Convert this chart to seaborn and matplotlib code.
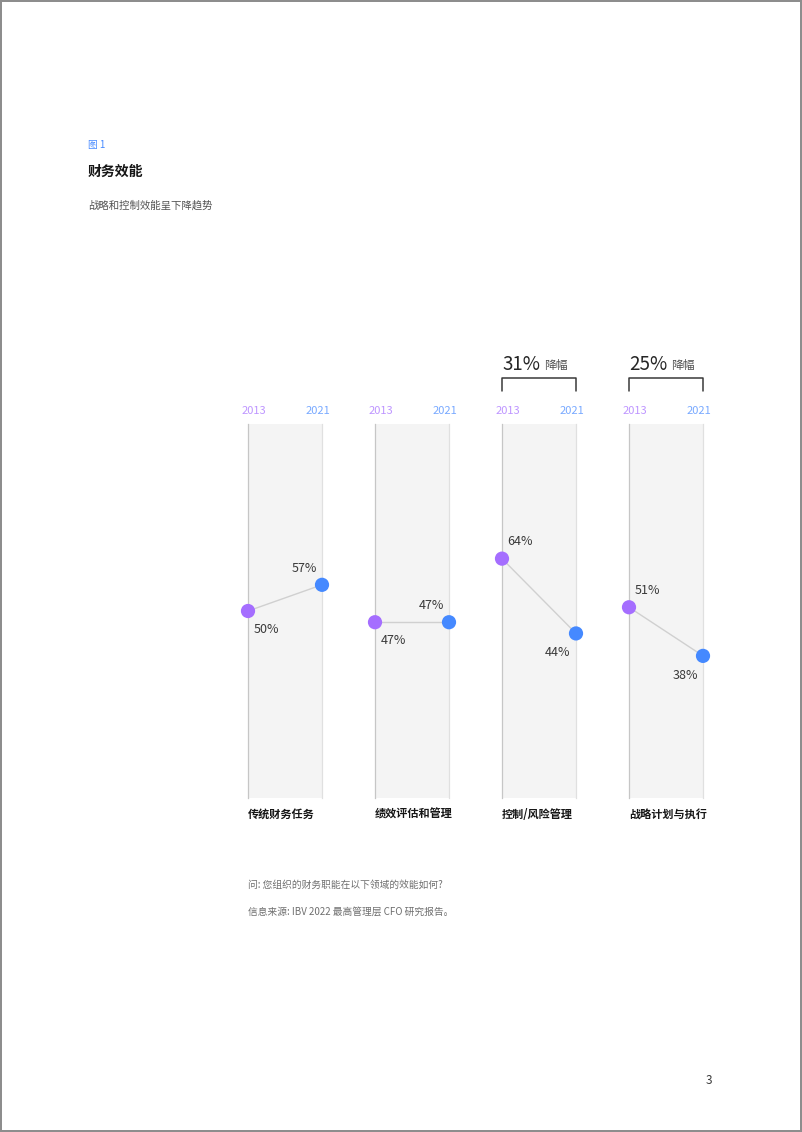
import matplotlib
matplotlib.use("Agg")
import matplotlib.pyplot as plt
import numpy as np
import pandas as pd
import seaborn as sns

# ── Data ────────────────────────────────────────────────────────────────────
categories = ["传统财务任务", "绩效评估和管理", "控制/风险管理", "战略计划与执行"]
years = ["2013", "2021"]
values_2013 = [50, 47, 64, 51]
values_2021 = [57, 47, 44, 38]
drop_labels = ["", "", "31%", "25%"]

PURPLE = "#a56eff"
BLUE = "#4589ff"
YEAR_PURPLE = "#be95ff"
YEAR_BLUE = "#78a9ff"

sns.set_theme(style="white")
plt.rcParams["font.family"] = ["Noto Sans CJK SC", "DejaVu Sans"]

W, H = 802, 1132
fig = plt.figure(figsize=(W / 100, H / 100), dpi=100)
fig.patch.set_edgecolor("#8d8d8d")
fig.patch.set_linewidth(1.5)

# page header
fig.text(88 / W, 1 - 145 / H, "图 1", fontsize=7, fontweight="medium",
         color="#4589ff", va="center")
fig.text(88 / W, 1 - 172 / H, "财务效能", fontsize=10, fontweight="bold",
         color="#161616", va="center")
fig.text(88 / W, 1 - 205 / H, "战略和控制效能呈下降趋势", fontsize=7.5,
         color="#525252", va="center")

# panel geometry (pixels)
panel_left = [248, 375, 502, 629]
panel_w = 74
top_px, bot_px = 424, 798
panel_h = bot_px - top_px

for i, cat in enumerate(categories):
    ax = fig.add_axes([panel_left[i] / W, 1 - bot_px / H, panel_w / W, panel_h / H])
    ax.set_facecolor("#f4f4f4")
    ax.set_xlim(0, 1)
    ax.set_ylim(0, 100)
    ax.set_xticks([])
    ax.set_yticks([])
    for side in ("top", "bottom"):
        ax.spines[side].set_visible(False)
    ax.spines["left"].set_color("#c6c6c6")
    ax.spines["right"].set_color("#e0e0e0")
    ax.spines["left"].set_linewidth(0.9)
    ax.spines["right"].set_linewidth(0.9)

    df = pd.DataFrame({"x": [0, 1], "v": [values_2013[i], values_2021[i]],
                       "year": years})
    sns.lineplot(data=df, x="x", y="v", color="#d0d0d0", linewidth=1,
                 ax=ax, legend=False)
    sns.scatterplot(data=df, x="x", y="v", hue="year",
                    palette={"2013": PURPLE, "2021": BLUE}, s=105,
                    edgecolor="none", ax=ax, legend=False, clip_on=False,
                    zorder=5)
    ax.set_xlabel("")
    ax.set_ylabel("")

    # value labels
    a, b = values_2013[i], values_2021[i]
    first_up = a > b
    ax.annotate(f"{a}%", (0, a), xytext=(13, 12 if first_up else -13),
                textcoords="offset points", ha="center", va="center",
                fontsize=9, color="#393939", annotation_clip=False)
    ax.annotate(f"{b}%", (1, b), xytext=(-13, -14 if first_up else 12),
                textcoords="offset points", ha="center", va="center",
                fontsize=9, color="#393939", annotation_clip=False)

    # year labels
    ax.text(0.085, 1 + 13 / panel_h, years[0], transform=ax.transAxes,
            ha="center", va="center", fontsize=8, color=YEAR_PURPLE)
    ax.text(0.94, 1 + 13 / panel_h, years[1], transform=ax.transAxes,
            ha="center", va="center", fontsize=8, color=YEAR_BLUE)

    # category label
    ax.text(0, -16 / panel_h, cat, transform=ax.transAxes, ha="left",
            va="center", fontsize=8, fontweight="bold", color="#161616")

    # decline bracket
    if drop_labels[i]:
        y_top = 1 + 46 / panel_h
        y_leg = 1 + 33 / panel_h
        ax.plot([0, 0, 1, 1], [y_leg, y_top, y_top, y_leg],
                transform=ax.transAxes, color="#393939", linewidth=1.1,
                clip_on=False)
        ax.text(0, 1 + 60 / panel_h, drop_labels[i], transform=ax.transAxes,
                ha="left", va="center", fontsize=13.5, color="#262626")
        ax.text(42 / panel_w, 1 + 58 / panel_h, "降幅", transform=ax.transAxes,
                ha="left", va="center", fontsize=8.5, color="#525252")

# footnotes
fig.text(248 / W, 1 - 885 / H, "问: 您组织的财务职能在以下领域的效能如何?",
         fontsize=7, color="#6f6f6f", va="center", style="italic")
fig.text(248 / W, 1 - 912 / H, "信息来源: IBV 2022 最高管理层 CFO 研究报告。",
         fontsize=7, color="#6f6f6f", va="center", style="italic")

# page number
fig.text(709 / W, 1 - 1081 / H, "3", fontsize=8.5, color="#393939",
         ha="center", va="center")

fig.savefig("out.png", dpi=100)
